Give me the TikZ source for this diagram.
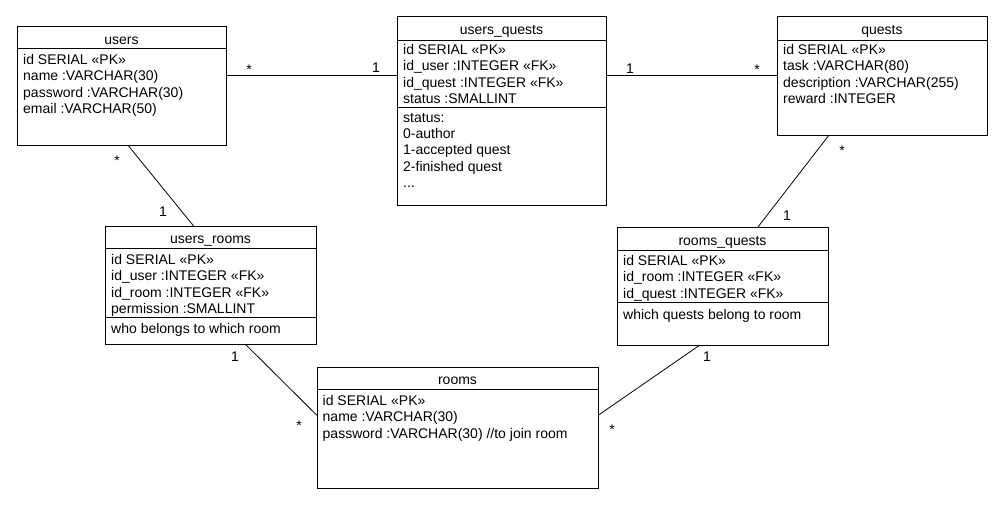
\documentclass[tikz,border=0pt]{standalone}
\usepackage{fontspec}
\setmainfont{Liberation Sans}
\usepackage{tikz}
\usetikzlibrary{calc}

\newcommand{\entfont}{\fontsize{14}{16.3}\selectfont}

\tikzset{
    classbox/.style={draw, line width=0.8pt, inner sep=0pt, outer sep=0pt, anchor=north west},
    classname/.style={anchor=base, inner sep=0pt, font=\entfont},
    attrlist/.style={anchor=north west, align=left, inner sep=0pt, font=\entfont, execute at begin node=\strut},
    mult/.style={inner sep=0pt, text height=10pt, text depth=0pt, font=\entfont},
    sepline/.style={line width=0.8pt},
    assoc/.style={line width=0.8pt}
}

\begin{document}
\begin{tikzpicture}[x=1pt, y=-1pt]
    \useasboundingbox[fill=white] (0,0) rectangle (1007,525);

    \node[classbox, minimum width=209, minimum height=119] (users) at (17,26) {};
    \draw[sepline] ([yshift=-22.5pt]users.north west) -- ([yshift=-22.5pt]users.north east);
    \node[classname] (users-name) at (121.5,44) {users};
    \node[attrlist] (users-attr) at (23,54.1) {id SERIAL «PK»\\name :VARCHAR(30)\\password :VARCHAR(30)\\email :VARCHAR(50)};

    \node[classbox, minimum width=209, minimum height=189] (users-quests) at (397,16) {};
    \draw[sepline] ([yshift=-24pt]users-quests.north west) -- ([yshift=-24pt]users-quests.north east);
    \draw[sepline] ([yshift=-91pt]users-quests.north west) -- ([yshift=-91pt]users-quests.north east);
    \node[classname] (users-quests-name) at (501.5,34.5) {users\_quests};
    \node[attrlist] (users-quests-attr) at (403,44.1) {id SERIAL «PK»\\id\_user :INTEGER «FK»\\id\_quest :INTEGER «FK»\\status :SMALLINT};
    \node[attrlist] (users-quests-note) at (403,113.1) {status:\\0-author\\1-accepted quest\\2-finished quest\\...};

    \node[classbox, minimum width=210, minimum height=119] (quests) at (777,16) {};
    \draw[sepline] ([yshift=-24pt]quests.north west) -- ([yshift=-24pt]quests.north east);
    \node[classname] (quests-name) at (882,34.5) {quests};
    \node[attrlist] (quests-attr) at (783,44.1) {id SERIAL «PK»\\task :VARCHAR(80)\\description :VARCHAR(255)\\reward :INTEGER};

    \node[classbox, minimum width=211, minimum height=118] (users-rooms) at (105,226) {};
    \draw[sepline] ([yshift=-22pt]users-rooms.north west) -- ([yshift=-22pt]users-rooms.north east);
    \draw[sepline] ([yshift=-91pt]users-rooms.north west) -- ([yshift=-91pt]users-rooms.north east);
    \node[classname] (users-rooms-name) at (210.5,243.5) {users\_rooms};
    \node[attrlist] (users-rooms-attr) at (111,254.1) {id SERIAL «PK»\\id\_user :INTEGER «FK»\\id\_room :INTEGER «FK»\\permission :SMALLINT};
    \node[attrlist] (users-rooms-note) at (111,322.1) {who belongs to which room};

    \node[classbox, minimum width=211, minimum height=118] (rooms-quests) at (617,227) {};
    \draw[sepline] ([yshift=-23pt]rooms-quests.north west) -- ([yshift=-23pt]rooms-quests.north east);
    \draw[sepline] ([yshift=-75pt]rooms-quests.north west) -- ([yshift=-75pt]rooms-quests.north east);
    \node[classname] (rooms-quests-name) at (722.5,245.5) {rooms\_quests};
    \node[attrlist] (rooms-quests-attr) at (623,255.1) {id SERIAL «PK»\\id\_room :INTEGER «FK»\\id\_quest :INTEGER «FK»};
    \node[attrlist] (rooms-quests-note) at (623,308.1) {which quests belong to room};

    \node[classbox, minimum width=281, minimum height=121] (rooms) at (317,367) {};
    \draw[sepline] ([yshift=-22pt]rooms.north west) -- ([yshift=-22pt]rooms.north east);
    \node[classname] (rooms-name) at (457.5,384.5) {rooms};
    \node[attrlist] (rooms-attr) at (322.5,395.1) {id SERIAL «PK»\\name :VARCHAR(30)\\password :VARCHAR(30) //to join room};

    \draw[assoc] (users.east |- quests.west) -- (users-quests.west |- quests.west);
    \draw[assoc] (users-quests.east |- quests.west) -- (quests.west);
    \draw[assoc] ($(users.south west)!0.53!(users.south east)$) -- ($(users-rooms.north west)!0.42!(users-rooms.north east)$);
    \draw[assoc] ($(quests.south west)!0.248!(quests.south east)$) -- ($(rooms-quests.north west)!0.668!(rooms-quests.north east)$);
    \draw[assoc] ($(users-rooms.south west)!0.664!(users-rooms.south east)$) -- ($(rooms.north west)!0.4!(rooms.south west)$);
    \draw[assoc] ($(rooms-quests.south west)!0.393!(rooms-quests.south east)$) -- ($(rooms.north east)!0.4!(rooms.south east)$);

    \node[mult] (m-users-uq) at (249,69) {*};
    \node[mult] (m-uq-users) at (376,67) {1};
    \node[mult] (m-uq-quests) at (630,68) {1};
    \node[mult] (m-quests-uq) at (757,69) {*};
    \node[mult] (m-users-ur) at (117,160) {*};
    \node[mult] (m-ur-users) at (163,211) {1};
    \node[mult] (m-quests-rq) at (842,150) {*};
    \node[mult] (m-rq-quests) at (787,215) {1};
    \node[mult] (m-ur-rooms) at (235,356) {1};
    \node[mult] (m-rooms-ur) at (299,425) {*};
    \node[mult] (m-rq-rooms) at (707,356) {1};
    \node[mult] (m-rooms-rq) at (612,429) {*};
  \end{tikzpicture}
\end{document}
